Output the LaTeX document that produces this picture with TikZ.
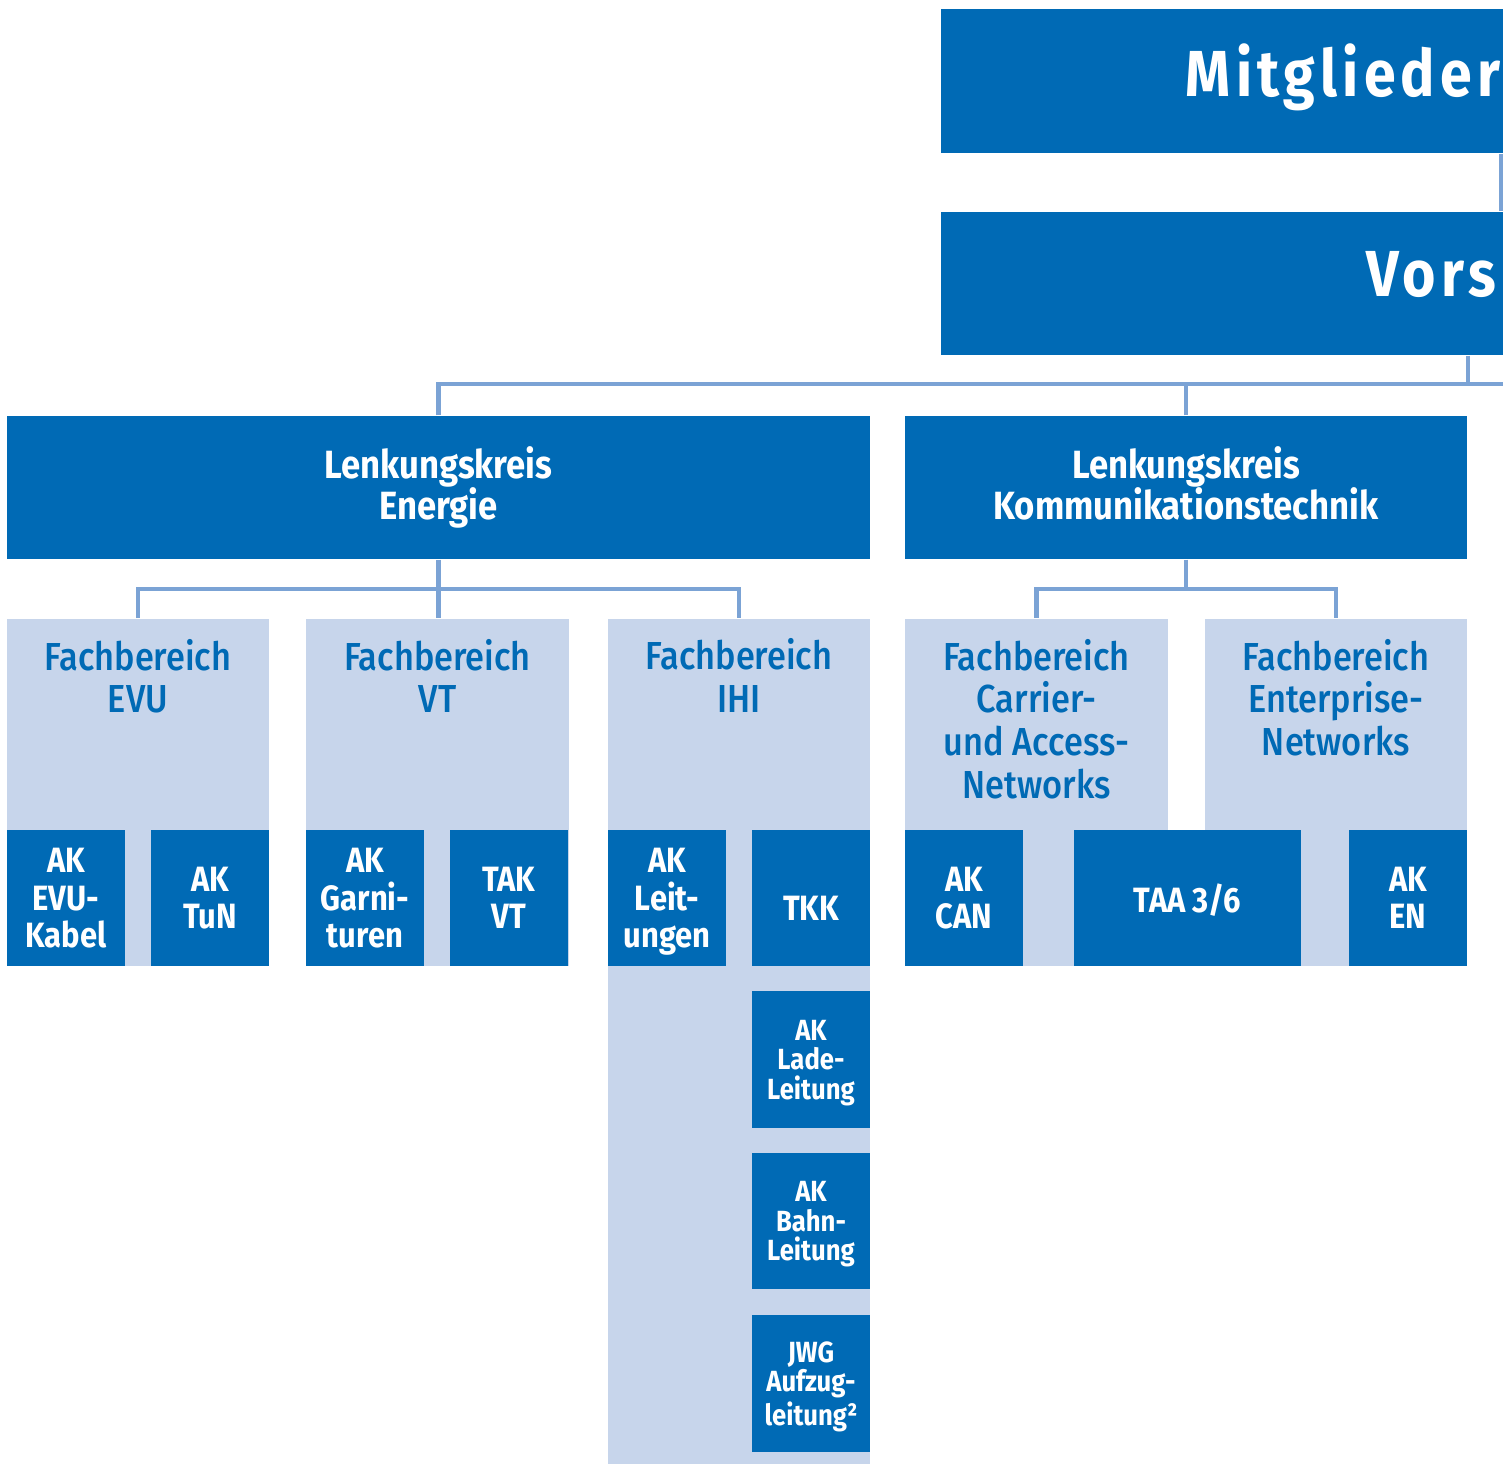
\documentclass[tikz,border=0pt]{standalone}
\usepackage{fontspec}
\setmainfont{Fira Sans}[FakeStretch=0.88]
\newfontfamily\medfont{Fira Sans Medium}[FakeStretch=0.88]
\newfontfamily\sperrfont{Fira Sans}[FakeStretch=0.88, LetterSpace=8]
\usetikzlibrary{positioning}
\definecolor{dblau}{RGB}{0,106,181}
\definecolor{hblau}{RGB}{199,213,235}
\definecolor{lblau}{RGB}{123,163,213}
\tikzset{
  verb/.style={draw=lblau, line width=1.15pt},
  gross/.style={fill=dblau, minimum width=5.79cm, minimum height=1.44cm, inner sep=0pt},
  gtext/.style={inner sep=0pt, text=white, font=\sperrfont\bfseries\fontsize{18.5}{20}\selectfont},
  lenk/.style={fill=dblau, text=white, minimum height=1.43cm, inner sep=0pt, align=center,
    font=\bfseries\fontsize{11.2}{11.4}\selectfont},
  hell/.style={fill=hblau, minimum width=2.62cm, minimum height=3.47cm, inner sep=0pt},
  titel/.style={inner sep=0pt, align=center, text=dblau, font=\medfont\fontsize{11.1}{12.2}\selectfont},
  dunkel/.style={fill=dblau, text=white, minimum width=1.18cm, minimum height=1.36cm, inner sep=0pt,
    text depth=0pt, align=center, font=\bfseries\fontsize{10}{10.65}\selectfont},
  klein/.style={dunkel, font=\bfseries\fontsize{8.3}{8.4}\selectfont}
}
\begin{document}
\begin{tikzpicture}[x=0.01cm, y=-0.01cm]
\useasboundingbox (0,0) rectangle (1503,1464);
% oben
\node[gross] (mitgl) at (1230.5,81) {};
\node[gtext, anchor=base east] (tMitgl) at (1501,97) {Mitglieder};
\node[gross, minimum height=1.43cm] (vors) at (1230.5,283.5) {};
\node[gtext, anchor=base east] (tVors) at (1497,297) {Vors};
\draw[verb] ([xshift=-0.2cm]mitgl.south east) -- ([xshift=-0.2cm]vors.north east);
% Lenkungskreise
\node[lenk, minimum width=8.63cm] (lkE) at (438.5,487.5) {Lenkungskreis\\[-0.03cm]Energie};
\node[lenk, minimum width=5.62cm] (lkK) at (1186,487.5) {Lenkungskreis\\[-0.03cm]Kommunikationstechnik\vphantom{g}};
\coordinate (bus) at (1520,384);
\draw[verb] (lkE.north) |- (bus);
\draw[verb] (lkK.north) -- (lkK.north |- bus);
\draw[verb] (vors.south -| lkK.east) -- (lkK.east |- bus);
% Fachbereiche
\node[hell] (fbEVU) at (138,792.5) {};
\node[hell] (fbVT) at (437.5,792.5) {};
\node[hell, minimum height=8.45cm] (fbIHI) at (739,1041.5) {};
\node[hell, minimum width=2.63cm] (fbCAN) at (1036.5,792.5) {};
\node[hell] (fbEN) at (1336,792.5) {};
\draw[verb] (lkE.south) -- (lkE.south |- fbVT.north);
\draw[verb] (fbEVU.north) -- ++(0,-29) -| (fbIHI.north);
\draw[verb] (lkK.south) -- ++(0,31);
\draw[verb] (fbCAN.north) -- ++(0,-29) -| (fbEN.north);
\node[titel, below=0.2cm of fbEVU.north] (tEVU) {Fachbereich\\EVU};
\node[titel, below=0.2cm of fbVT.north] (tVT) {Fachbereich\\VT};
\node[titel, below=0.2cm of fbIHI.north] (tIHI) {Fachbereich\\IHI};
\node[titel, below=0.2cm of fbCAN.north] (tCAN) {Fachbereich\\Carrier-\\und Access-\\Networks};
\node[titel, below=0.2cm of fbEN.north] (tEN) {Fachbereich\\Enterprise-\\Networks};
% Arbeitskreise
\node[dunkel] (akEVU) at (66,898) {AK\\EVU-\\Kabel};
\node[dunkel] (akTuN) at (210,898) {AK\\TuN};
\node[dunkel] (akGarn) at (365,898) {AK\\Garni-\\turen};
\node[dunkel] (takVT) at (509,898) {TAK\\VT};
\node[dunkel] (akLeit) at (667,898) {AK\\Leit-\\ungen};
\node[dunkel] (tkk) at (811,898) {\raisebox{-0.1cm}[\height][0pt]{TKK}};
\node[klein, below=0.24cm of tkk] (akLade) {AK\\Lade-\\Leitung};
\node[klein, below=0.24cm of akLade] (akBahn) {AK\\Bahn-\\Leitung};
\node[klein, below=0.25cm of akBahn] (jwg) {JWG\\Aufzug-\\leitung²};
\node[dunkel] (akCAN) at (964,898) {AK\\CAN};
\node[dunkel, minimum width=2.27cm] (taa) at (1187.5,898) {TAA 3/6};
\node[dunkel] (akEN) at (1408,898) {AK\\EN};
\end{tikzpicture}
\end{document}
